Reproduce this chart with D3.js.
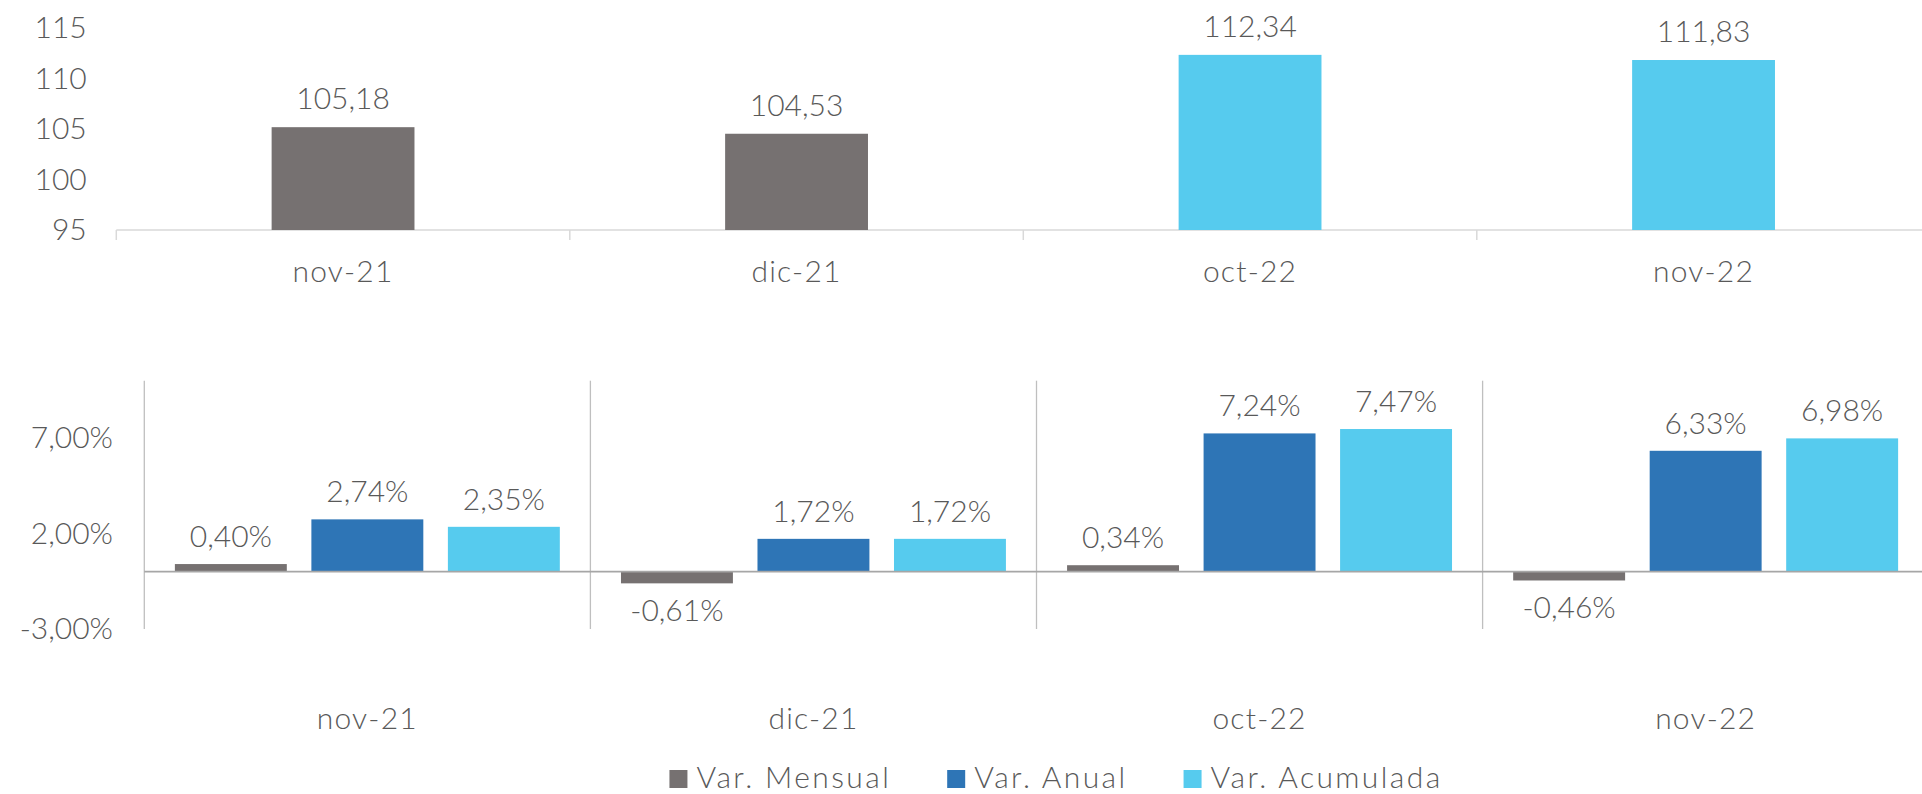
<!DOCTYPE html>
<html>
<head>
<meta charset="utf-8">
<script src="https://cdn.jsdelivr.net/npm/d3@7"></script>
<style>
  html, body { margin: 0; padding: 0; background: #fff; }
  svg { display: block; font-family: Lato, "Noto Sans", sans-serif; font-weight: 300; }
  text { fill: #595959; }
</style>
</head>
<body>
<svg id="chart" width="1922" height="794"></svg>
<script>
// index values per month
const categories = ['nov-21', 'dic-21', 'oct-22', 'nov-22'];
const indexValues = [105.18, 104.53, 112.34, 111.83];
const indexTicks = [95, 100, 105, 110, 115];

// variations (%)
const seriesNames = ['Var. Mensual', 'Var. Anual', 'Var. Acumulada'];
const varMensual = [0.40, -0.61, 0.34, -0.46];
const varAnual = [2.74, 1.72, 7.24, 6.33];
const varAcumulada = [2.35, 1.72, 7.47, 6.98];
const varTicks = [-3, 2, 7];

const GRAY = '#767171', BLUE = '#2E75B6', LIGHT = '#56CBEE';
const seriesColors = [GRAY, BLUE, LIGHT];
const FONT = 30;

const locale = d3.formatLocale({ decimal: ',', thousands: '.', grouping: [3], currency: ['', ''], minus: '-' });
const fmt2 = locale.format('.2f');
const pct = v => fmt2(v) + '%';

const svg = d3.select('#chart');

// axis groups: drop d3's default font so the page font is used
const plain = g => {
  g.attr('font-family', null).attr('font-size', FONT);
  g.select('.domain').remove();
  g.selectAll('text').attr('fill', null);
};

// ---------- top chart (index) ----------
const xTop = d3.scaleBand().domain(categories).range([116.3, 116.3 + 4 * 453.5]);
const barTop = d3.scaleBand().domain([0]).range([0, xTop.bandwidth()])
    .paddingInner(0.685).paddingOuter(0.3425);
const yTop = d3.scaleLinear().domain([95, 115]).range([230, 28]);

const gTop = svg.append('g');

gTop.append('g')
    .attr('transform', 'translate(86.7,0)')
    .call(d3.axisLeft(yTop).tickValues(indexTicks).tickSize(0).tickPadding(0))
    .call(plain);

gTop.append('line')
    .attr('x1', xTop.range()[0]).attr('x2', 1922)
    .attr('y1', yTop(95)).attr('y2', yTop(95))
    .attr('stroke', '#D9D9D9').attr('stroke-width', 1.5);

gTop.selectAll('.sep')
    .data(categories)
    .join('line')
    .attr('class', 'sep')
    .attr('x1', d => xTop(d)).attr('x2', d => xTop(d))
    .attr('y1', yTop(95)).attr('y2', yTop(95) + 10)
    .attr('stroke', '#D9D9D9').attr('stroke-width', 1.5);

gTop.append('g')
    .attr('transform', `translate(0,${yTop(95)})`)
    .call(d3.axisBottom(xTop).tickSize(0).tickPadding(31))
    .call(plain)
    .selectAll('text').attr('letter-spacing', 1.2);

gTop.selectAll('.bar')
    .data(indexValues)
    .join('rect')
    .attr('class', 'bar')
    .attr('x', (d, i) => xTop(categories[i]) + barTop(0))
    .attr('width', barTop.bandwidth())
    .attr('y', d => yTop(d))
    .attr('height', d => yTop(95) - yTop(d))
    .attr('fill', (d, i) => categories[i].endsWith('21') ? GRAY : LIGHT);

gTop.selectAll('.lbl')
    .data(indexValues)
    .join('text')
    .attr('class', 'lbl')
    .attr('x', (d, i) => xTop(categories[i]) + xTop.bandwidth() / 2)
    .attr('y', d => yTop(d) - 18)
    .attr('text-anchor', 'middle')
    .attr('font-size', FONT)
    .text(d => fmt2(d));

// ---------- bottom chart (variations) ----------
const series = [varMensual, varAnual, varAcumulada];
const x0 = d3.scaleBand().domain(categories).range([144.3, 144.3 + 4 * 446.1]);
const x1 = d3.scaleBand().domain(seriesNames).range([0, x0.bandwidth()])
    .paddingInner(0.18).paddingOuter(0.224);
const yBot = d3.scaleLinear().domain([-3, 10]).range([629, 380.7]);

const gBot = svg.append('g');

gBot.append('g')
    .attr('transform', 'translate(113,0)')
    .call(d3.axisLeft(yBot).tickValues(varTicks).tickFormat(pct).tickSize(0).tickPadding(0))
    .call(plain);

gBot.selectAll('.vline')
    .data(categories)
    .join('line')
    .attr('class', 'vline')
    .attr('x1', d => x0(d)).attr('x2', d => x0(d))
    .attr('y1', yBot(10)).attr('y2', yBot(-3))
    .attr('stroke', '#BFBFBF').attr('stroke-width', 1.3);

const cells = [];
categories.forEach((c, i) => seriesNames.forEach((s, j) => cells.push({ c, s, j, v: series[j][i] })));

gBot.selectAll('.bar')
    .data(cells)
    .join('rect')
    .attr('class', 'bar')
    .attr('x', d => x0(d.c) + x1(d.s))
    .attr('width', x1.bandwidth())
    .attr('y', d => yBot(Math.max(0, d.v)))
    .attr('height', d => Math.abs(yBot(d.v) - yBot(0)))
    .attr('fill', d => seriesColors[d.j]);

gBot.append('line')
    .attr('x1', x0.range()[0]).attr('x2', 1922)
    .attr('y1', yBot(0)).attr('y2', yBot(0))
    .attr('stroke', '#A6A6A6').attr('stroke-width', 1.75);

gBot.selectAll('.lbl')
    .data(cells)
    .join('text')
    .attr('class', 'lbl')
    .attr('x', d => x0(d.c) + x1(d.s) + x1.bandwidth() / 2)
    .attr('y', d => d.v >= 0 ? yBot(d.v) - 17 : yBot(d.v) + 38)
    .attr('text-anchor', 'middle')
    .attr('font-size', FONT)
    .text(d => pct(d.v));

gBot.append('g')
    .attr('transform', `translate(0,${yBot(-3)})`)
    .call(d3.axisBottom(x0).tickSize(0).tickPadding(79))
    .call(plain)
    .selectAll('text').attr('letter-spacing', 1.2);

// ---------- legend ----------
const legend = svg.append('g');
const items = legend.selectAll('g')
    .data(seriesNames)
    .join('g');
items.append('rect')
    .attr('width', 18).attr('height', 18).attr('y', -18)
    .attr('fill', (d, i) => seriesColors[i]);
items.append('text')
    .attr('x', 27)
    .attr('font-size', FONT)
    .attr('letter-spacing', 2.4)
    .text(d => d);

let cx = 0;
const gap = 56;
items.each(function () {
  const w = 27 + this.querySelector('text').getComputedTextLength();
  d3.select(this).attr('transform', `translate(${cx},0)`);
  cx += w + gap;
});
const totalW = cx - gap;
legend.attr('transform', `translate(${1056 - totalW / 2},788)`);
</script>
</body>
</html>
